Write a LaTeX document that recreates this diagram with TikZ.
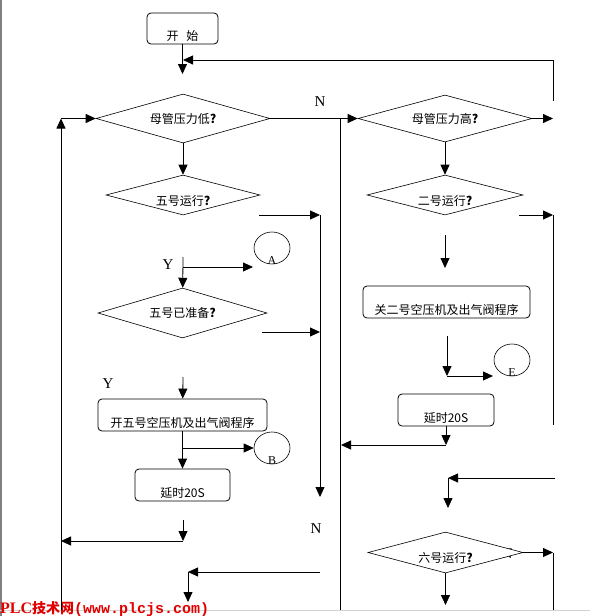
\documentclass[tikz,border=0pt]{standalone}
\usepackage{fontspec}
\setmainfont{Noto Sans CJK SC}
\newfontfamily\tagfont{Liberation Serif}
\newfontfamily\markmono{Liberation Mono}
\newfontfamily\markserif{Liberation Serif}
\usetikzlibrary{shapes.geometric,arrows.meta}
\definecolor{markred}{RGB}{225,0,0}

\tikzset{
  proc/.style={draw, line width=0.8pt, rounded corners=4pt, inner sep=2pt, text height=24pt, text depth=0pt},
  cond/.style={draw, line width=0.6pt, diamond, aspect=3.5, inner sep=0pt, fill=white},
  low/.style={text height=20pt, text depth=0pt},
  conn/.style={draw, line width=0.6pt, ellipse, inner sep=0pt, minimum width=36pt, minimum height=32pt},
  link/.style={-{Triangle[length=10pt,width=9pt]}, line width=0.8pt},
  tag/.style={font=\tagfont\fontsize{15}{15}\selectfont},
  letter/.style={anchor=base, inner sep=0pt, font=\tagfont\fontsize{12}{12}\selectfont},
}
\newcommand\qm{{\bfseries ?}}

\begin{document}
\begin{tikzpicture}[x=1pt, y=-1pt, font=\fontsize{12}{14}\selectfont]
        \useasboundingbox (0,0) rectangle (590,616);
        \draw[gray, line width=2pt] (1,0) -- (1,616);
        \draw[gray!35] (0,610) -- (590,610);

        \node[proc, minimum width=71pt, minimum height=31pt] (start) at (182.5,28.5) {开\hspace{8pt}始};
        \node[cond, minimum width=174pt, minimum height=49pt] (low) at (183,118.5) {母管压力低\qm};
        \node[cond, minimum width=174pt, minimum height=47pt] (high) at (445,118.5) {母管压力高\qm};
        \node[cond, low, minimum width=154pt, minimum height=40pt] (run5) at (183,195) {五号运行\qm};
        \node[cond, minimum width=169pt, minimum height=50pt] (ready5) at (182.5,313) {五号已准备\qm};
        \node[cond, low, minimum width=156pt, minimum height=40pt] (run2) at (445,195) {二号运行\qm};
        \node[proc, minimum width=169pt, minimum height=32pt] (open5) at (182.5,415) {开五号空压机及出气阀程序};
        \node[proc, minimum width=95pt, minimum height=32pt] (delay5) at (182.5,485) {延时20S};
        \node[proc, minimum width=167pt, minimum height=32pt] (close2) at (446.5,302) {关二号空压机及出气阀程序};
        \node[proc, minimum width=96pt, minimum height=32pt] (delay2) at (446,410) {延时20S};
        \node[tag] (n6) at (507,553.5) {N};
        \node[cond, low, minimum width=155pt, minimum height=41pt] (run6) at (445.5,552.5) {六号运行\qm};

        \node[conn] (A) at (272,248) {};
        \node[conn] (B) at (272,448) {};
        \node[conn] (E) at (512,360) {};
        \node[letter] (Alab) at (A.south) {A};
        \node[letter] (Blab) at (B.south) {B};
        \node[letter] (Elab) at (E.south) {E};

        \node[tag] (n1) at (320,102) {N};
        \node[tag] (n2) at (316,529) {N};
        \node[tag] (y1) at (168,265) {Y};
        \node[tag] (y2) at (108,384) {Y};

        \node[anchor=base west, inner sep=0pt, text=markred] (mark) at (0,613)
          {{\markserif\bfseries\fontsize{16}{16}\selectfont PLC}{\bfseries\fontsize{14}{14}\selectfont 技术网}{\markmono\bfseries\fontsize{15}{15}\selectfont (www.plcjs.com)}};

        % free ends
        \coordinate (s1) at (182.5,74);
        \coordinate (r0) at (553,118.5);
        \coordinate (r1) at (553,101);
        \coordinate (r2) at (553,60);
        \coordinate (r3) at (183,60);
        \coordinate (l0) at (61,610);
        \coordinate (l1) at (61,118.5);
        \coordinate (m0) at (340,118.5);
        \coordinate (m1) at (340,610);
        \coordinate (g0) at (259,215);
        \coordinate (g1) at (320,215);
        \coordinate (g2) at (320,497);
        \coordinate (g3) at (262,332);
        \coordinate (g4) at (320,332);
        \coordinate (y3) at (183,257);
        \coordinate (y4) at (183,267);
        \coordinate (y5) at (253,267);
        \coordinate (y6) at (183,377);
        \coordinate (b0) at (183,448);
        \coordinate (f0) at (183,520);
        \coordinate (f1) at (183,541);
        \coordinate (f2) at (61,541);
        \coordinate (h0) at (320,572);
        \coordinate (h1) at (188,572);
        \coordinate (h2) at (188,602);
        \coordinate (t0) at (445,235);
        \coordinate (t1) at (445,268);
        \coordinate (e0) at (447,336);
        \coordinate (e1) at (447,376);
        \coordinate (e2) at (493,376);
        \coordinate (d0) at (446,445);
        \coordinate (d1) at (341,445);
        \coordinate (k0) at (555,478);
        \coordinate (k1) at (448,478);
        \coordinate (k2) at (448,508);
        \coordinate (q0) at (519,215);
        \coordinate (q1) at (553,215);
        \coordinate (q2) at (553,425);
        \coordinate (u0) at (553,552.5);
        \coordinate (u1) at (553,610);
        \coordinate (v0) at (445.5,605);

        \draw[link] (start) -- (s1);
        \draw[link] (r1) -- (r2) -- (r3);
        \draw[link] (l0) -- (l1);
        \draw[link] (l1) -- (low.west);
        \draw[link] (low.east) -- (high.west);
        \draw[line width=0.8pt] (m0) -- (m1);
        \draw[link] (high.east) -- (r0);
        \draw[link] (high) -- (run2);
        \draw[link] (low) -- (run5);
        \draw[link] (g0) -- (g1);
        \draw[link] (g1) -- (g2);
        \draw[link] (g3) -- (g4);
        \draw[link] (y3) -- (ready5);
        \draw[link] (y4) -- (y5);
        \draw[link] (y6) -- (open5);
        \draw[link] (open5) -- (delay5);
        \draw[link] (b0) -- (B);
        \draw[link] (f0) -- (f1);
        \draw[link] (f1) -- (f2);
        \draw[link] (h0) -- (h1);
        \draw[link] (h1) -- (h2);
        \draw[link] (t0) -- (t1);
        \draw[link] (e0) -- (e1);
        \draw[link] (e1) -- (e2);
        \draw[link] (delay2) -- (d0);
        \draw[link] (d0) -- (d1);
        \draw[link] (k0) -- (k1);
        \draw[link] (k1) -- (k2);
        \draw[link] (q0) -- (q1);
        \draw[line width=0.8pt] (q1) -- (q2);
        \draw[link] (run6.east) -- (u0);
        \draw[line width=0.8pt] (u0) -- (u1);
        \draw[link] (run6) -- (v0);
      \end{tikzpicture}
\end{document}
